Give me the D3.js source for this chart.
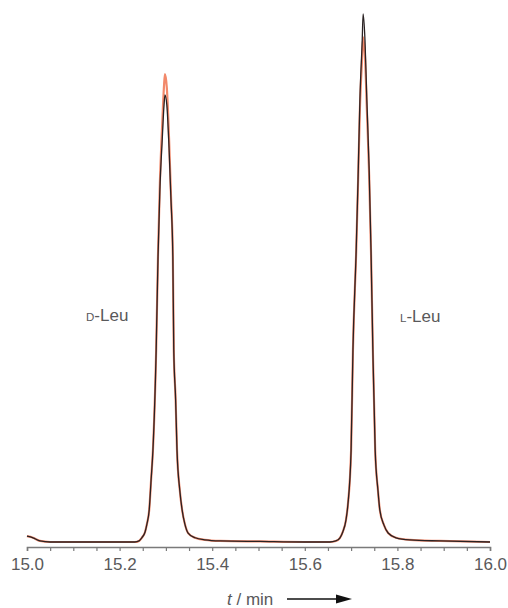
<!DOCTYPE html>
<html lang="en">
<head>
  <meta charset="UTF-8">
  <title>D/L-Leu chromatogram</title>
  <style>
    body { margin: 0; background: #fff; }
    svg { display: block; font-family: "Liberation Sans", Arial, sans-serif; }
  </style>
  <script src="https://d3js.org/d3.v7.min.js"></script>
</head>
<body>
  <svg width="508" height="608"></svg>

  <script>
    // retention time (min)
    var times = [
      15.000, 15.013, 15.028, 15.050, 15.150, 15.233, 15.242, 15.248, 15.255, 15.259,
      15.264, 15.268, 15.272, 15.279, 15.283, 15.287, 15.292, 15.296, 15.298, 15.302,
      15.307, 15.311, 15.315, 15.317, 15.321, 15.324, 15.330, 15.335, 15.341, 15.348,
      15.363, 15.384, 15.417, 15.503, 15.600, 15.654, 15.667, 15.676, 15.682, 15.689,
      15.693, 15.700, 15.704, 15.711, 15.715, 15.719, 15.724, 15.726, 15.730, 15.734,
      15.739, 15.743, 15.747, 15.752, 15.758, 15.762, 15.771, 15.780, 15.797, 15.827,
      15.892, 16.000
    ];
    // detector signal, black trace
    var signalBlack = [
      1.1, 0.8, 0.2, 0.0, 0.0, 0.0, 0.2, 0.8, 1.9, 3.4,
      6.1, 11.7, 17.4, 36.4, 54.0, 66.7, 76.1, 82.8, 84.7, 82.8,
      74.2, 64.8, 54.0, 36.4, 27.0, 17.4, 9.8, 6.1, 3.4, 1.7,
      0.8, 0.4, 0.2, 0.1, 0.0, 0.0, 0.2, 0.8, 1.9, 4.2,
      7.0, 17.4, 36.4, 55.3, 68.6, 83.7, 95.0, 100.0, 95.0, 83.7,
      70.5, 55.3, 36.4, 17.4, 9.8, 6.1, 3.2, 1.7, 0.8, 0.4,
      0.2, 0.0
    ];
    // detector signal, red trace
    var signalRed = [
      1.1, 0.8, 0.2, 0.0, 0.0, 0.0, 0.2, 0.8, 1.9, 3.4,
      6.1, 11.7, 17.4, 36.4, 54.5, 68.0, 79.0, 86.5, 88.6, 86.0,
      76.0, 65.5, 54.0, 36.4, 27.0, 17.4, 9.8, 6.1, 3.4, 1.7,
      0.8, 0.4, 0.2, 0.1, 0.0, 0.0, 0.2, 0.8, 1.9, 4.2,
      7.0, 17.4, 36.4, 55.0, 68.0, 82.0, 92.0, 95.6, 92.0, 82.0,
      69.5, 55.0, 36.4, 17.4, 9.8, 6.1, 3.2, 1.7, 0.8, 0.4,
      0.2, 0.0
    ];
    var tickLabels = ["15.0", "15.2", "15.4", "15.6", "15.8", "16.0"];

    var svg = d3.select("svg");
    var grey = "#59595b";

    var x = d3.scaleLinear().domain([15.0, 16.0]).range([27, 490]);
    var y = d3.scaleLinear().domain([0, 100]).range([542, 14]);

    var line = d3.line()
      .x(function(d, i) { return x(times[i]); })
      .y(function(d) { return y(d); })
      .curve(d3.curveMonotoneX);

    // red trace under, black on top
    svg.append("path")
      .datum(signalRed)
      .attr("d", line)
      .attr("fill", "none")
      .attr("stroke", "#f2896b")
      .attr("stroke-width", 2.2);

    svg.append("path")
      .datum(signalBlack)
      .attr("d", line)
      .attr("fill", "none")
      .attr("stroke", "#2a2223")
      .attr("stroke-width", 1.3);

    // x axis
    var axisY = 547;
    var minorTicks = d3.range(0, 21).map(function(i) { return 15 + i * 0.05; });
    var axis = d3.axisBottom(x)
      .tickValues(minorTicks)
      .tickSize(4)
      .tickFormat(function(d, i) { return i % 4 === 0 ? tickLabels[i / 4] : ""; });

    var gx = svg.append("g")
      .attr("transform", "translate(0," + axisY + ")")
      .call(axis);
    gx.select(".domain").attr("stroke", "#7a7a7a").attr("stroke-width", 1.6);
    gx.selectAll(".tick line").attr("stroke", "#7a7a7a").attr("stroke-width", 1.2);
    gx.selectAll(".tick text")
      .attr("y", 11)
      .attr("fill", grey)
      .style("font-size", "17px");

    // axis title with arrow
    var title = svg.append("text")
      .attr("x", 227)
      .attr("y", 605)
      .attr("fill", grey)
      .style("font-size", "17px");
    title.append("tspan").attr("font-style", "italic").text("t");
    title.append("tspan").text(" / min");

    svg.append("line")
      .attr("x1", 287).attr("x2", 338)
      .attr("y1", 599).attr("y2", 599)
      .attr("stroke", "#111").attr("stroke-width", 1.3);
    svg.append("path")
      .attr("d", "M336,594.5 L352,599 L336,603.5 Z")
      .attr("fill", "#111");

    // peak labels with small caps prefix
    function peakLabel(px, py, cap) {
      var t = svg.append("text")
        .attr("x", px).attr("y", py)
        .attr("fill", grey)
        .style("font-size", "17px");
      t.append("tspan").style("font-size", "11.5px").text(cap);
      t.append("tspan").text("-Leu");
    }
    peakLabel(86, 321, "D");
    peakLabel(400, 322, "L");
  </script>
</body>
</html>
